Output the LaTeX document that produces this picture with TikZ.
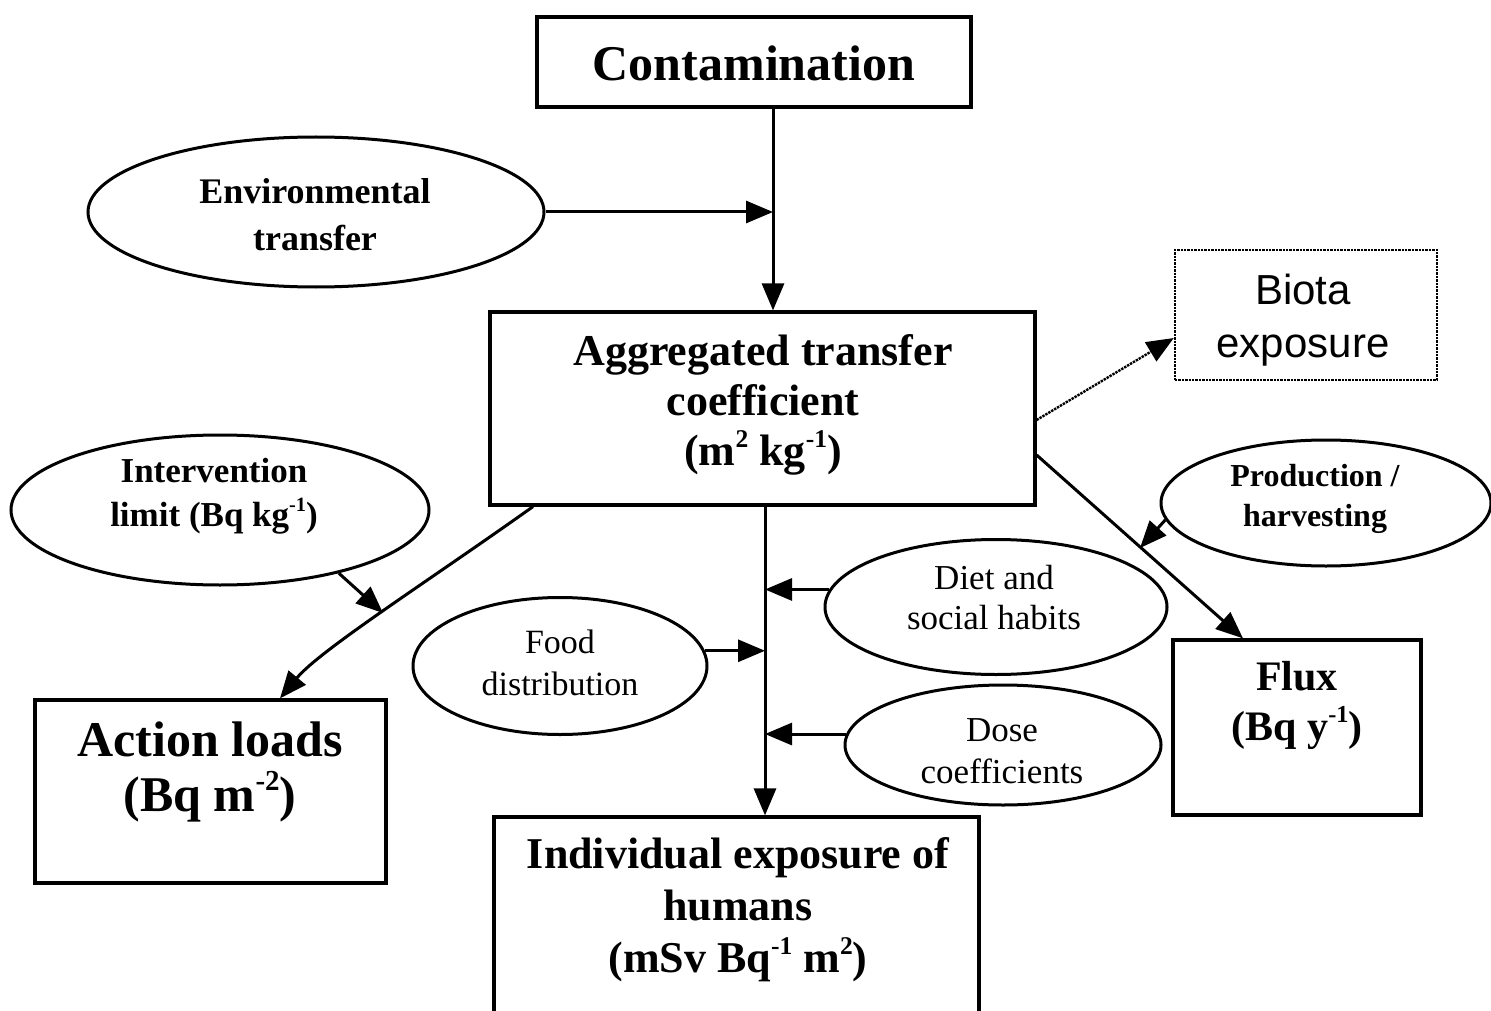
\documentclass[tikz,border=0pt]{standalone}
\usepackage{fontspec}
\setmainfont{Liberation Serif}
\newfontfamily\biotafont{Liberation Sans}
\usetikzlibrary{shapes.geometric,arrows.meta}
\tikzset{
  box/.style={draw, line width=3.2pt, rectangle, inner sep=0pt},
  dotbox/.style={draw, line width=2.4pt, densely dotted, rectangle, inner sep=0pt},
  oval/.style={draw, line width=3pt, ellipse, inner sep=0pt},
  lbl/.style={align=center, inner sep=0pt},
  arr/.style={line width=3pt, -{Triangle[length=27pt,width=22pt]}},
  dotarr/.style={line width=2.4pt, densely dotted, -{Triangle[length=27pt,width=22pt]}},
}
\newcommand{\fsz}[2]{\fontsize{#1}{#2}\selectfont}
\newcommand{\upx}[1]{\raisebox{0.42em}{\fontsize{0.58\dimexpr\csname f@size\endcsname pt\relax}{0}\selectfont #1}}
\begin{document}
\begin{tikzpicture}[x=1pt,y=-1pt]
\useasboundingbox (0,0) rectangle (1491,1011);
% boxes
\node[box, minimum width=434, minimum height=90] (cont) at (754,62) {};
\node[box, minimum width=545, minimum height=193] (agg) at (762.5,408.5) {};
\node[dotbox, minimum width=262, minimum height=130] (biota) at (1306,315) {};
\node[box, minimum width=351, minimum height=183] (action) at (210.5,791.5) {};
\node[box, minimum width=248, minimum height=175] (flux) at (1297,727.5) {};
\node[box, minimum width=485, minimum height=210] (indiv) at (736.5,922) {};
% ellipses
\node[oval, minimum width=456, minimum height=150] (env) at (316,212) {};
\node[oval, minimum width=418, minimum height=150] (interv) at (220,510) {};
\node[oval, minimum width=330, minimum height=126] (prod) at (1326,503) {};
\node[oval, minimum width=294, minimum height=137] (food) at (560,666) {};
\node[oval, minimum width=342, minimum height=135] (diet) at (996,607) {};
\node[oval, minimum width=316, minimum height=120] (dose) at (1003,745) {};
% texts
\node[lbl, font=\fsz{50}{55}\bfseries] (conttxt) at (754,63) {Contamination};
\node[lbl, font=\fsz{44}{50}\bfseries] (aggtxt) at (763,405) {Aggregated transfer\\coefficient\\(m\upx{2} kg\upx{-1})};
\node[lbl, font=\fsz{42}{53}\biotafont] (biotatxt) at (1303,320) {Biota\\exposure};
\node[lbl, font=\fsz{50}{55}\bfseries] (actiontxt) at (210,772) {Action loads\\(Bq m\upx{-2})};
\node[lbl, font=\fsz{42}{50}\bfseries] (fluxtxt) at (1297,705) {Flux\\(Bq y\upx{-1})};
\node[lbl, font=\fsz{44}{52}\bfseries] (indivtxt) at (738,910) {Individual exposure of\\humans\\(mSv Bq\upx{-1} m\upx{2})};
\node[lbl, font=\fsz{36}{47}\bfseries] (envtxt) at (315,215) {Environmental\\transfer};
\node[lbl, font=\fsz{35}{44}\bfseries] (intervtxt) at (214,496) {Intervention\\limit (Bq kg\upx{-1})};
\node[lbl, font=\fsz{32}{40}\bfseries] (prodtxt) at (1315,499) {Production /\\harvesting};
\node[lbl, font=\fsz{34}{42}] (foodtxt) at (560,663) {Food\\distribution};
\node[lbl, font=\fsz{35}{40}] (diettxt) at (994,598) {Diet and\\social habits};
\node[lbl, font=\fsz{35}{42}] (dosetxt) at (1002,751) {Dose\\coefficients};
% junction coordinates
\coordinate (vtop) at (773,0);
\coordinate (vmain) at (765,0);
\coordinate (aL) at (533,0);
\coordinate (aT) at (280,0);
\coordinate (fy) at (0,455);
\coordinate (fT) at (1243,0);
\coordinate (bS) at (0,420);
\coordinate (bE) at (0,338);
\coordinate (ja) at (383,613);
\coordinate (jp) at (1140,548);
% connectors
\draw[arr] (cont.south -| vtop) -- (agg.north -| vtop);
\draw[arr] (env.east) -- (env.east -| vtop);
\draw[arr] (agg.south -| vmain) -- (indiv.north -| vmain);
\draw[arr] (diet.174) -- (diet.174 -| vmain);
\draw[arr] (dose.176) -- (dose.176 -| vmain);
\draw[arr] (food.6) -- (food.6 -| vmain);
\draw[arr] (agg.south -| aL) .. controls (430,580) and (320,650) .. (action.north -| aT);
\draw[arr] (interv.-28) -- (ja);
\draw[arr] (agg.east |- fy) -- (flux.north -| fT);
\draw[arr] (prod.186) -- (jp);
\draw[dotarr] (agg.east |- bS) -- (biota.west |- bE);
\end{tikzpicture}
\end{document}
